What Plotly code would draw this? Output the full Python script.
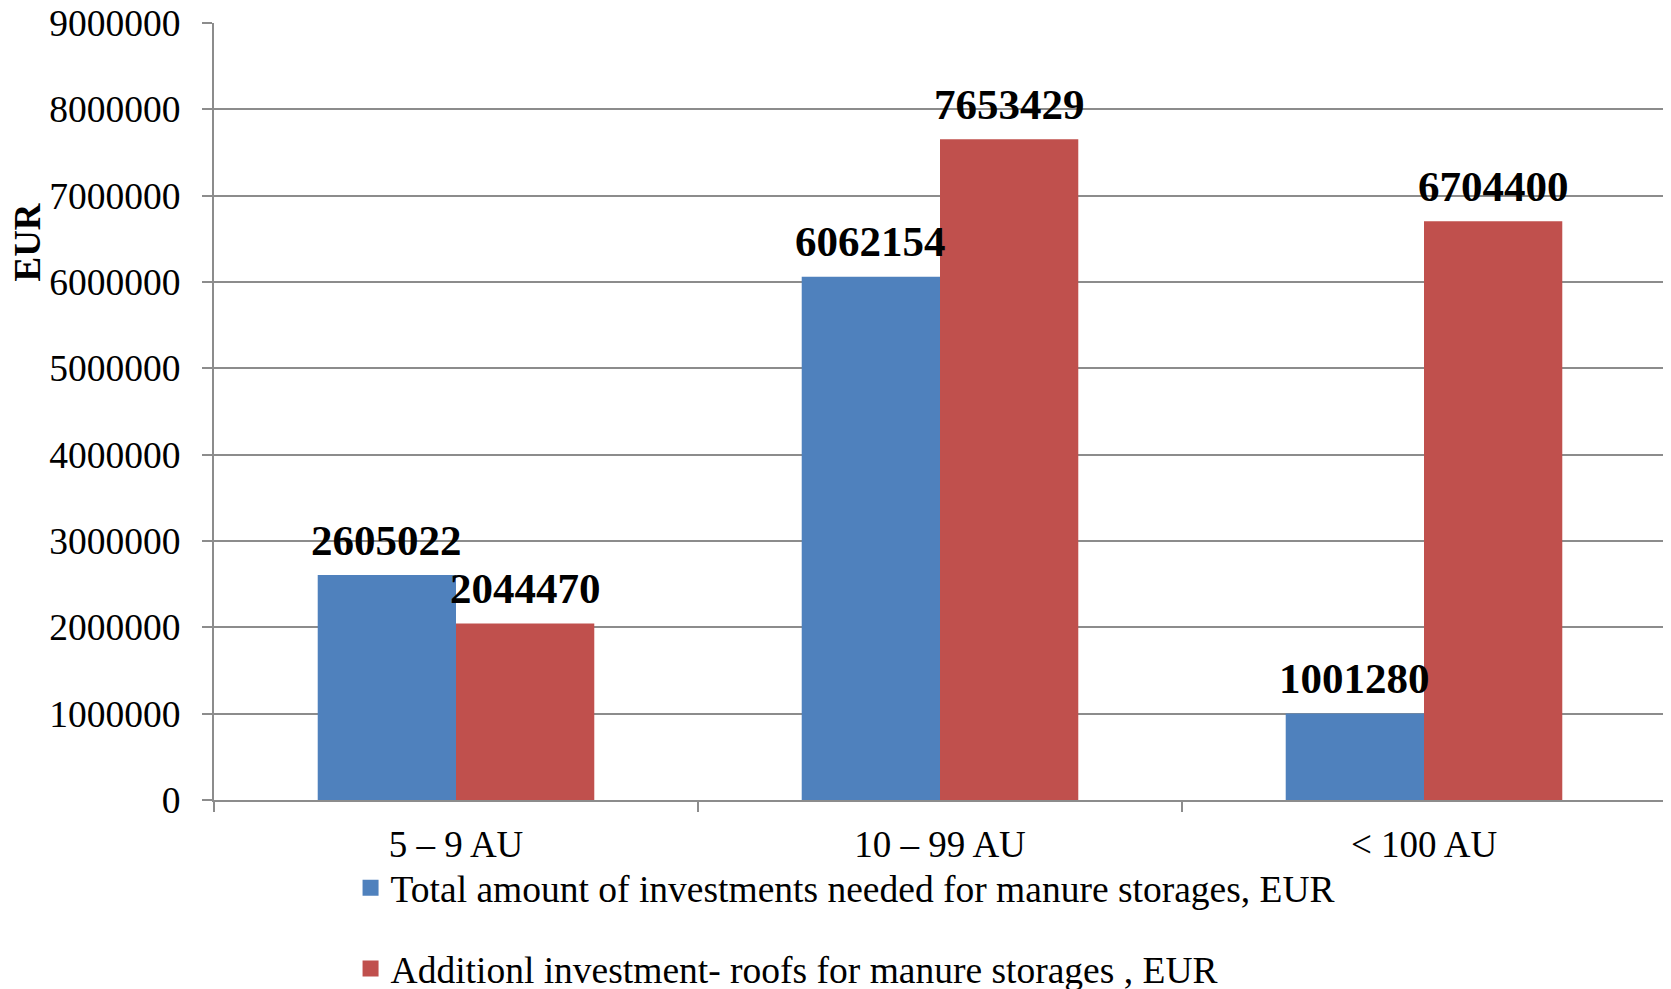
import plotly.graph_objects as go

categories = ["5 – 9 AU", "10 – 99 AU", "< 100 AU"]
total_invest = [2605022, 6062154, 1001280]
roof_invest = [2044470, 7653429, 6704400]
series_names = [
    "Total amount of investments needed for manure storages, EUR",
    "Additionl investment- roofs for manure storages , EUR",
]
y_ticks = [0, 1000000, 2000000, 3000000, 4000000, 5000000, 6000000, 7000000, 8000000, 9000000]

FONT = "Liberation Serif"
GRID = "#8c8c8c"
COLORS = ["#4F81BD", "#C0504D"]

L, R, T, B = 206, 13, 15, 197
W, H = 1671, 989
plot_w = W - L - R
bar_w = plot_w / len(categories) / 3.5

fig = go.Figure()
series = [total_invest, roof_invest]
annotations = []
for i, (name, vals, color) in enumerate(zip(series_names, series, COLORS)):
    fig.add_trace(go.Bar(
        x=categories, y=vals, name=name, marker_color=color,
        marker_line_width=0, showlegend=False, offsetgroup=str(i),
    ))
    # legend proxy with a larger square swatch
    fig.add_trace(go.Scatter(
        x=[None], y=[None], mode="markers", name=name, legendgroup=str(i),
        marker=dict(symbol="square", size=19, color=color),
    ))
    shift = (-0.5 if i == 0 else 0.5) * bar_w
    for c, v in zip(categories, vals):
        annotations.append(dict(
            x=c, y=v, xref="x", yref="y", text=f"<b>{v}</b>", showarrow=False,
            xshift=shift, yshift=35, xanchor="center", yanchor="middle",
            font=dict(family=FONT, size=43, color="black"),
        ))

annotations.append(dict(
    text="<b>EUR</b>", xref="paper", yref="paper",
    x=-0.1285, y=0.718, showarrow=False, textangle=-90,
    font=dict(family=FONT, size=37, color="black"),
    xanchor="center", yanchor="middle",
))

fig.update_layout(
    width=W, height=H,
    margin=dict(l=L, r=R, t=T, b=B, autoexpand=False),
    plot_bgcolor="white", paper_bgcolor="white",
    barmode="group", bargap=0.4286, bargroupgap=0,
    font=dict(family=FONT, size=37, color="black"),
    showlegend=True,
    legend=dict(
        xref="container", yref="container", x=0.205, y=0.1416,
        xanchor="left", yanchor="top",
        orientation="v", traceorder="grouped", tracegroupgap=29,
        font=dict(family=FONT, size=37.5, color="black"),
        itemwidth=30,
    ),
    xaxis=dict(
        showline=True, linecolor=GRID, linewidth=2,
        ticks="outside", tickson="boundaries", ticklen=10, tickcolor=GRID, tickwidth=2,
        tickfont=dict(family=FONT, size=37), tickangle=0,
        ticklabelstandoff=11,
    ),
    yaxis=dict(
        range=[0, 9000000], tickvals=y_ticks, ticktext=[str(v) for v in y_ticks],
        showgrid=True, gridcolor=GRID, gridwidth=2,
        showline=True, linecolor=GRID, linewidth=2,
        ticks="outside", ticklen=10, tickcolor=GRID, tickwidth=2,
        tickfont=dict(family=FONT, size=37.5),
        ticklabelstandoff=14, ticklabeloverflow="allow",
        zeroline=False,
    ),
    annotations=annotations,
)

fig.write_html("out.html")
